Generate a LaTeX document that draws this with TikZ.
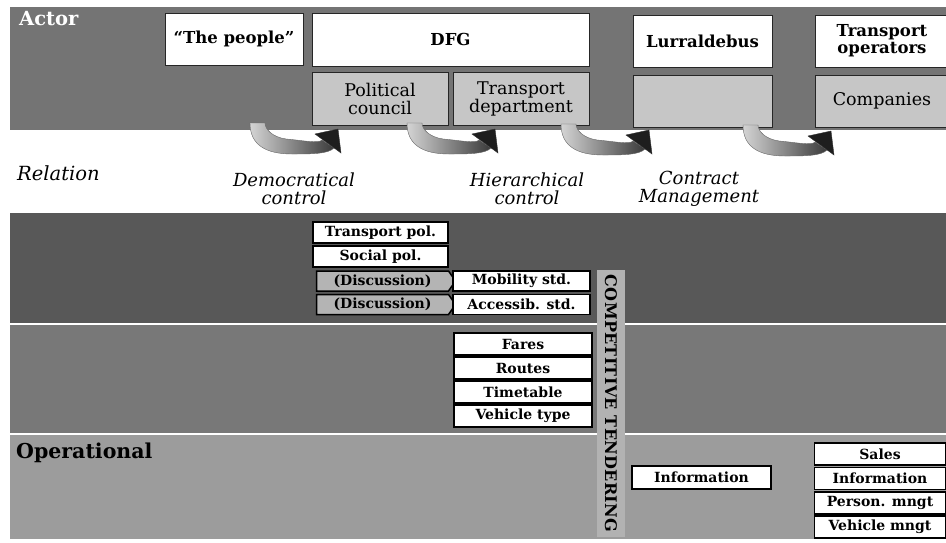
\documentclass[tikz,border=0pt]{standalone}
\usepackage{fontspec}
\setmainfont{DejaVu Serif}
\usetikzlibrary{shapes.symbols}

\definecolor{actorband}{HTML}{747474}
\definecolor{stratband}{HTML}{585858}
\definecolor{tactband}{HTML}{787878}
\definecolor{operband}{HTML}{9C9C9C}
\definecolor{boxgrey}{HTML}{C6C6C6}
\definecolor{chevgrey}{HTML}{B4B4B4}
\definecolor{bargrey}{HTML}{B2B2B2}
\definecolor{arrlight}{HTML}{D4D4D4}
\definecolor{arrmid}{HTML}{3A3A3A}
\definecolor{arrdark}{HTML}{1E1E1E}

\tikzset{
  band/.style={fill=#1, draw=none},
  headbox/.style={draw=black!85, line width=0.9pt, fill=white, align=center, inner sep=0pt,
    font=\bfseries\fontsize{16.5}{17}\selectfont},
  unitbox/.style={draw=black!85, line width=0.9pt, fill=boxgrey, align=center, inner sep=0pt,
    font=\fontsize{17.5}{18}\selectfont},
  item/.style={draw=black, line width=1.5pt, fill=white, inner sep=0pt,
    minimum height=21pt, font=\bfseries\fontsize{14}{15}\selectfont},
  chev/.style={shape=signal, signal to=east, signal pointer angle=110, draw=black, line width=1.5pt,
    fill=chevgrey, inner sep=0pt, minimum height=20pt, minimum width=139pt,
    font=\bfseries\fontsize{14}{15}\selectfont},
  rellabel/.style={align=center, font=\itshape\fontsize{18}{18}\selectfont},
  % curved block arrow: tail drops from the box above, bends round and rises into a head
  ctrlarrow/.pic={
    \shadedraw[left color=arrlight, right color=arrmid, draw=black!60, line width=0.4pt]
      (0,0) .. controls (0,22) and (16,31) .. (42,31)
            .. controls (62,31) and (78,31) .. (84,25)
      -- (72,17)
            .. controls (69,21) and (50,17) .. (36,16)
            .. controls (22,14) and (15,6) .. (15,0) -- cycle;
    \filldraw[fill=arrdark, draw=black!80, line width=0.4pt, line join=miter]
      (65,11) -- (91,30) -- (88,6) -- cycle;
  }
}

\begin{document}
\begin{tikzpicture}[x=1pt, y=-1pt]
\useasboundingbox[fill=white] (0,0) rectangle (946,542);

% horizontal bands
\fill[band=actorband] (10,7) rectangle (946,130);
\fill[band=stratband] (10,213) rectangle (946,323);
\fill[band=tactband] (10,325) rectangle (946,433);
\fill[band=operband] (10,435) rectangle (946,539);

% band titles
\node[anchor=north west, text=white, font=\bfseries\fontsize{19.5}{20}\selectfont, inner sep=0pt] (actor) at (19,11) {Actor};
\node[anchor=west, font=\itshape\fontsize{19.5}{20}\selectfont, inner sep=0pt] (relation) at (17,173) {Relation};
\node[anchor=west, font=\bfseries\fontsize{20.5}{21}\selectfont, inner sep=0pt] (oper) at (16,453) {Operational};

% actors
\node[headbox, minimum width=138pt, minimum height=52pt] (people) at (234,39) {“The people”};
\node[headbox, minimum width=277pt, minimum height=53pt] (dfg) at (450.5,39.5) {DFG};
\node[unitbox, minimum width=136pt, minimum height=53pt] (pc) at (380,98.5) {Political\\council};
\node[unitbox, minimum width=136pt, minimum height=53pt] (td) at (521,98.5) {Transport\\department};
\node[headbox, minimum width=139pt, minimum height=52pt] (lb) at (702.5,41) {Lurraldebus};
\node[unitbox, minimum width=139pt, minimum height=52pt] (lbu) at (702.5,101) {};
\node[headbox, minimum width=134pt, minimum height=52pt] (tops) at (882,41) {Transport\\operators};
\node[unitbox, minimum width=134pt, minimum height=52pt] (comp) at (882,101) {Companies};

% relations between actors
\pic at (250,123) {ctrlarrow};
\pic at (407,123) {ctrlarrow};
\pic at (561,124) {ctrlarrow};
\pic at (743,125) {ctrlarrow};

\node[rellabel] (demo) at (294,189) {Democratical\\control};
\node[rellabel] (hier) at (527,189) {Hierarchical\\control};
\node[rellabel] (contr) at (699,189) {Contract\\Management};

% strategic level
\node[item, minimum width=135pt] (tpol) at (380.5,232.5) {Transport pol.};
\node[item, minimum width=135pt] (spol) at (380.5,256.5) {Social pol.};
\node[chev] (disc1) at (382.5,281) {(Discussion)};
\node[chev] (disc2) at (382.5,304.5) {(Discussion)};
\node[item, minimum width=137pt, minimum height=20pt] (mob) at (521.5,281) {Mobility std.};
\node[item, minimum width=137pt, minimum height=20pt] (acc) at (521.5,304.5) {Accessib. std.};

% competitive tendering bar
\node[draw=none, fill=bargrey, rotate=-90, minimum width=267pt, minimum height=28pt, inner sep=0pt,
      font=\bfseries\fontsize{16}{16}\selectfont\addfontfeature{LetterSpace=2}] (tender) at (611,403.5) {COMPETITIVE TENDERING};

% tactical level
\node[item, minimum width=138pt, minimum height=22pt] (fares) at (523,344) {Fares};
\node[item, minimum width=138pt, minimum height=22pt] (routes) at (523,368) {Routes};
\node[item, minimum width=138pt, minimum height=22pt] (ttable) at (523,392) {Timetable};
\node[item, minimum width=138pt, minimum height=22pt] (vtype) at (523,416) {Vehicle type};

% operational level
\node[item, minimum width=139pt, minimum height=23pt] (info) at (701.5,477.5) {Information};
\node[item, minimum width=131pt, minimum height=22pt] (sales) at (880,454) {Sales};
\node[item, minimum width=131pt, minimum height=22pt] (info2) at (880,478.5) {Information};
\node[item, minimum width=131pt, minimum height=22pt] (pers) at (880,503) {Person. mngt};
\node[item, minimum width=131pt, minimum height=22pt] (vmngt) at (880,527) {Vehicle mngt};
\end{tikzpicture}
\end{document}
